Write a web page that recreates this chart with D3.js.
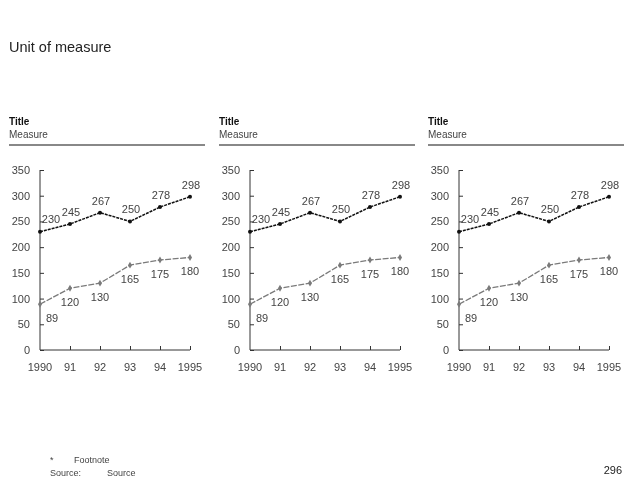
<!DOCTYPE html>
<html>
<head>
<meta charset="utf-8">
<script src="https://cdn.jsdelivr.net/npm/d3@7"></script>
<style>
  body { margin: 0; background: #fff; }
  svg { font-family: "Liberation Sans", Arial, sans-serif; will-change: transform; -webkit-font-smoothing: antialiased; }
</style>
</head>
<body>
<script>
const years = ['1990', '91', '92', '93', '94', '1995'];
const upperValues = [230, 245, 267, 250, 278, 298];
const upperLabels = ['230', '245', '267', '250', '278', '298'];
const lowerValues = [89, 120, 130, 165, 175, 180];
const yTicks = [0, 50, 100, 150, 200, 250, 300, 350];
const panelTitles = ['Title', 'Title', 'Title'];
const panelMeasures = ['Measure', 'Measure', 'Measure'];

function draw() {
    const width = 640, height = 480;
    const svg = d3.select('body').append('svg')
        .attr('width', width)
        .attr('height', height);

    svg.append('text')
        .attr('x', 9).attr('y', 52)
        .attr('font-size', 14.5)
        .attr('fill', '#222')
        .text('Unit of measure');

    const panelLeft = [9, 219, 428];

    panelLeft.forEach((left, i) => {
        const g = svg.append('g').attr('transform', `translate(${left},0)`);

        g.append('text').attr('x', 0).attr('y', 125)
            .attr('font-size', 10).attr('font-weight', 'bold').attr('fill', '#111')
            .text(panelTitles[i]);
        g.append('text').attr('x', 0).attr('y', 138)
            .attr('font-size', 10).attr('fill', '#444')
            .text(panelMeasures[i]);
        g.append('line')
            .attr('x1', 0).attr('x2', 196)
            .attr('y1', 145).attr('y2', 145)
            .attr('stroke', '#888').attr('stroke-width', 2);

        const X = d3.scalePoint().domain(years).range([31, 181]);
        const Y = d3.scaleLinear().domain([0, 350]).range([350, 170]);

        // y axis, ticks point inward
        const yAxis = d3.axisRight(Y).tickValues(yTicks).tickSize(4).tickFormat('');
        g.append('g').attr('transform', `translate(${X('1990')},0)`)
            .call(yAxis)
            .call(a => a.select('.domain').attr('stroke', '#333').attr('d', `M0,${Y(350)}V${Y(0)}`))
            .call(a => a.selectAll('.tick line').attr('stroke', '#333'));
        yTicks.forEach(t => {
            g.append('text')
                .attr('x', X('1990') - 10).attr('y', Y(t) + 4)
                .attr('text-anchor', 'end')
                .attr('font-size', 11).attr('fill', '#444')
                .text(t);
        });

        // x axis, ticks point upward
        const xAxis = d3.axisTop(X).tickSize(4).tickFormat('');
        g.append('g').attr('transform', `translate(0,${Y(0)})`)
            .call(xAxis)
            .call(a => a.select('.domain').attr('stroke', '#333').attr('d', `M${X('1990')},0H${X('1995')}`))
            .call(a => a.selectAll('.tick line').attr('stroke', '#333'))
            .call(a => a.selectAll('.tick').filter(d => d === '1990').remove());
        years.forEach(y => {
            g.append('text')
                .attr('x', X(y)).attr('y', 371)
                .attr('text-anchor', 'middle')
                .attr('font-size', 11).attr('fill', '#444')
                .text(y);
        });

        const line = d3.line().x((d, k) => X(years[k])).y(d => Y(d));

        // lower series (gray)
        g.append('path')
            .attr('d', line(lowerValues))
            .attr('fill', 'none').attr('stroke', '#7a7a7a')
            .attr('stroke-width', 1.3).attr('stroke-dasharray', '6,1.5');
        g.selectAll('.dlow').data(lowerValues).join('path')
            .attr('d', d3.symbol(d3.symbolDiamond, 14))
            .attr('transform', (d, k) => `translate(${X(years[k])},${Y(d)})`)
            .attr('fill', '#7a7a7a');
        g.selectAll('.llow').data(lowerValues).join('text')
            .attr('x', (d, k) => X(years[k]) + (k === 0 ? 12 : 0))
            .attr('y', d => Y(d) + 18)
            .attr('text-anchor', 'middle')
            .attr('font-size', 11).attr('fill', '#444')
            .text(d => d);

        // upper series (black)
        g.append('path')
            .attr('d', line(upperValues))
            .attr('fill', 'none').attr('stroke', '#111')
            .attr('stroke-width', 1.5).attr('stroke-dasharray', '3,1');
        g.selectAll('.dup').data(upperValues).join('circle')
            .attr('cx', (d, k) => X(years[k])).attr('cy', d => Y(d))
            .attr('r', 2).attr('fill', '#111');
        g.selectAll('.lup').data(upperValues).join('text')
            .attr('x', (d, k) => X(years[k]) + (k === 0 ? 11 : 1))
            .attr('y', (d, k) => Y(d) - (k === 0 ? 9 : 8))
            .attr('text-anchor', 'middle')
            .attr('font-size', 11).attr('fill', '#444')
            .text((d, k) => upperLabels[k]);
    });

    svg.append('text').attr('x', 50).attr('y', 463)
        .attr('font-size', 9).attr('fill', '#444').text('*');
    svg.append('text').attr('x', 74).attr('y', 463)
        .attr('font-size', 9).attr('fill', '#444').text('Footnote');
    svg.append('text').attr('x', 50).attr('y', 476)
        .attr('font-size', 9).attr('fill', '#444').text('Source:');
    svg.append('text').attr('x', 107).attr('y', 476)
        .attr('font-size', 9).attr('fill', '#444').text('Source');
    svg.append('text').attr('x', 622).attr('y', 474)
        .attr('text-anchor', 'end')
        .attr('font-size', 11).attr('fill', '#222').text('296');
}

draw();
</script>
</body>
</html>
